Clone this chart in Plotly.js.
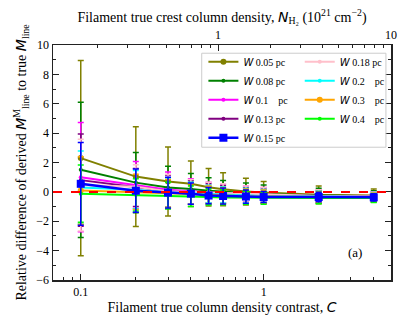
<!DOCTYPE html>
<html>
<head>
<meta charset="utf-8">
<script src="https://cdn.plot.ly/plotly-3.0.1.min.js"></script>
<style>
  body { margin: 0; background: white; }
  #fig { width: 407px; height: 325px; }
</style>
</head>
<body>
<div id="fig"></div>
<script>
// column density contrast C (bottom axis)
var contrast = [0.1, 0.2, 0.3, 0.4, 0.5, 0.6, 0.8, 1, 2, 4]

// relative difference of derived M_line to true M_line, with 1-sigma errors
var dev_005 = [2.30, 1.04, 0.70, 0.55, 0.32, 0.18, 0.02, -0.05, -0.20, -0.25]
var err_005 = [6.65, 3.40, 2.35, 1.55, 1.28, 1.13, 0.91, 0.75, 0.60, 0.45]
var dev_008 = [1.50, 0.63, 0.30, 0.20, 0.07, 0.00, -0.10, -0.15, -0.25, -0.30]
var err_008 = [4.60, 2.05, 1.45, 1.05, 0.90, 0.78, 0.70, 0.62, 0.50, 0.38]
var dev_010 = [1.00, 0.47, 0.15, 0.05, -0.05, -0.10, -0.15, -0.20, -0.28, -0.32]
var err_010 = [3.72, 1.60, 1.20, 0.85, 0.70, 0.65, 0.55, 0.50, 0.42, 0.32]
var dev_013 = [0.80, 0.30, 0.05, -0.05, -0.10, -0.15, -0.20, -0.25, -0.30, -0.33]
var err_013 = [3.14, 1.30, 1.10, 0.80, 0.65, 0.60, 0.50, 0.45, 0.38, 0.30]
var dev_015 = [0.55, 0.08, -0.05, -0.12, -0.25, -0.28, -0.32, -0.35, -0.35, -0.37]
var err_015 = [2.82, 1.47, 1.05, 0.72, 0.55, 0.55, 0.45, 0.38, 0.32, 0.25]
var dev_018 = [0.46, 0.35, 0.05, 0.00, -0.05, -0.10, -0.15, -0.20, -0.28, -0.32]
var err_018 = [3.12, 1.50, 1.15, 0.85, 0.70, 0.65, 0.55, 0.50, 0.42, 0.32]
var dev_020 = [0.30, 0.15, -0.05, -0.10, -0.15, -0.20, -0.25, -0.28, -0.32, -0.35]
var err_020 = [2.48, 1.30, 1.00, 0.75, 0.60, 0.55, 0.50, 0.45, 0.38, 0.30]
var dev_030 = [0.10, 0.00, -0.10, -0.15, -0.20, -0.25, -0.30, -0.32, -0.35, -0.37]
var err_030 = [2.30, 1.20, 0.95, 0.70, 0.60, 0.55, 0.50, 0.45, 0.38, 0.30]
var dev_040 = [-0.12, -0.20, -0.25, -0.30, -0.35, -0.38, -0.40, -0.42, -0.42, -0.42]
var err_040 = [1.95, 1.10, 0.90, 0.70, 0.55, 0.50, 0.45, 0.42, 0.38, 0.30]

// tick values
var cMajor = [0.1, 1]
var cMinor = [0.07, 0.08, 0.09, 0.2, 0.3, 0.4, 0.5, 0.6, 0.7, 0.8, 0.9, 2, 3, 4, 5]
var nMajor = [1, 10]
var nMinor = [0.2, 0.3, 0.4, 0.5, 0.6, 0.7, 0.8, 0.9, 2, 3, 4, 5, 6, 7, 8, 9]
var zeroLine = 0

// drawing order: blue (0.15) last so it sits on top, as in the figure
var series = [
    { w: '0.05', y: dev_005, e: err_005, color: '#808000', sym: 'circle', size: 6, lw: 2, leg: 'legend', rank: 1 },
    { w: '0.08', y: dev_008, e: err_008, color: '#008000', sym: 'circle', size: 4, lw: 2, leg: 'legend', rank: 2 },
    { w: '0.1', y: dev_010, e: err_010, color: '#ff00ff', sym: 'circle', size: 4, lw: 2, leg: 'legend', rank: 3 },
    { w: '0.13', y: dev_013, e: err_013, color: '#800080', sym: 'circle', size: 4, lw: 2, leg: 'legend', rank: 4 },
    { w: '0.18', y: dev_018, e: err_018, color: '#ffc0cb', sym: 'circle', size: 4, lw: 2, leg: 'legend2', rank: 1 },
    { w: '0.2', y: dev_020, e: err_020, color: '#00ffff', sym: 'circle', size: 4, lw: 2, leg: 'legend2', rank: 2 },
    { w: '0.3', y: dev_030, e: err_030, color: '#ffa500', sym: 'circle', size: 6, lw: 2, leg: 'legend2', rank: 3 },
    { w: '0.4', y: dev_040, e: err_040, color: '#00ff00', sym: 'circle', size: 4, lw: 2, leg: 'legend2', rank: 4 },
    { w: '0.15', y: dev_015, e: err_015, color: '#0000ff', sym: 'square', size: 8, lw: 2.5, leg: 'legend', rank: 5 }
]

var nb = '\u00a0'
function label(w) {
    var pad = w.length < 4 ? nb + nb + nb : ''
    return '<span style="font-family:DejaVu Sans"><i>W</i></span> ' + w + pad + ' pc'
}

var traces = series.map(function (s) {
    return {
        x: contrast,
        y: s.y,
        name: label(s.w),
        legend: s.leg,
        legendrank: s.rank,
        mode: 'lines+markers',
        line: { color: s.color, width: s.lw },
        marker: { color: s.color, symbol: s.sym, size: s.size },
        error_y: { type: 'data', array: s.e, visible: true, color: s.color, thickness: 1.5, width: 3 }
    }
})

// empty trace so the top (N_H2) axis gets drawn
traces.push({
    x: nMajor, y: [null, null], xaxis: 'x2', yaxis: 'y',
    mode: 'markers', showlegend: false, hoverinfo: 'skip'
})

var axisCol = '#222'
var font = { family: 'Liberation Serif, Times New Roman, serif', size: 12, color: '#000' }
var legFont = { family: 'Liberation Serif, serif', size: 10 }

var layout = {
    width: 407,
    height: 325,
    margin: { l: 53, r: 16, t: 45, b: 45 },
    paper_bgcolor: 'white',
    plot_bgcolor: 'white',
    font: font,
    showlegend: true,
    legend: {
        x: 0.445, xanchor: 'left', y: 0.99, yanchor: 'top',
        itemwidth: 30, tracegroupgap: 0,
        bgcolor: 'rgba(255,255,255,0)', borderwidth: 0, font: legFont
    },
    legend2: {
        x: 0.73, xanchor: 'left', y: 0.99, yanchor: 'top',
        itemwidth: 30, tracegroupgap: 0,
        bgcolor: 'rgba(255,255,255,0)', borderwidth: 0, font: legFont
    },
    xaxis: {
        type: 'log',
        range: [Math.log10(0.0705), Math.log10(4.97)],
        tickvals: cMajor,
        ticktext: ['0.1', '1'],
        ticks: 'inside', ticklen: 6, tickwidth: 1, tickcolor: axisCol,
        minor: { tickvals: cMinor, ticks: 'inside', ticklen: 3, tickwidth: 1, tickcolor: axisCol },
        showline: true, linecolor: axisCol, linewidth: 1.5,
        showgrid: false, zeroline: false,
        title: { text: 'Filament true column density contrast, <span style="font-family:DejaVu Sans"><i>C</i></span>', standoff: 4 },
        automargin: false
    },
    xaxis2: {
        type: 'log',
        overlaying: 'x',
        side: 'top',
        anchor: 'y',
        range: [Math.log10(0.111), 1.0],
        tickvals: nMajor,
        ticktext: ['1', '10'],
        ticks: 'inside', ticklen: 6, tickwidth: 1, tickcolor: axisCol,
        minor: { tickvals: nMinor, ticks: 'inside', ticklen: 3, tickwidth: 1, tickcolor: axisCol },
        showline: true, linecolor: axisCol, linewidth: 1.5,
        showgrid: false, zeroline: false,
        title: { text: 'Filament true crest column density, <span style="font-family:DejaVu Sans"><i>N</i></span><sub>H\u2082</sub> (10<sup>21</sup> cm<sup>\u22122</sup>)', standoff: 2 },
        automargin: false
    },
    yaxis: {
        range: [-6, 10],
        dtick: 2,
        ticks: 'inside', ticklen: 6, tickwidth: 1, tickcolor: axisCol,
        minor: { dtick: 1, ticks: 'inside', ticklen: 3, tickwidth: 1, tickcolor: axisCol },
        showline: true, linecolor: axisCol, linewidth: 1.5, mirror: 'ticks',
        showgrid: false, zeroline: false,
        title: {
            text: 'Relative difference of derived <span style="font-family:DejaVu Sans"><i>M</i></span><sup>M</sup><sub>line</sub> to true <span style="font-family:DejaVu Sans"><i>M</i></span><sub>line</sub>',
            standoff: 6
        },
        automargin: false
    },
    shapes: [
        {
            type: 'line', xref: 'paper', yref: 'y',
            x0: 0, x1: 1, y0: zeroLine, y1: zeroLine,
            line: { color: 'red', width: 2, dash: 'dash' },
            layer: 'above'
        },
        // frame around the two legend columns
        {
            type: 'rect', xref: 'paper', yref: 'paper',
            x0: 0.44, x1: 0.985, y0: 0.565, y1: 0.965,
            fillcolor: 'rgba(255,255,255,0.8)',
            line: { color: '#cccccc', width: 1 },
            layer: 'above'
        }
    ],
    annotations: [
        { text: '(a)', xref: 'paper', yref: 'paper', x: 0.92, y: 0.075, showarrow: false, font: { size: 13 } }
    ]
}

Plotly.newPlot('fig', traces, layout, { displayModeBar: false, staticPlot: true })
</script>
</body>
</html>
